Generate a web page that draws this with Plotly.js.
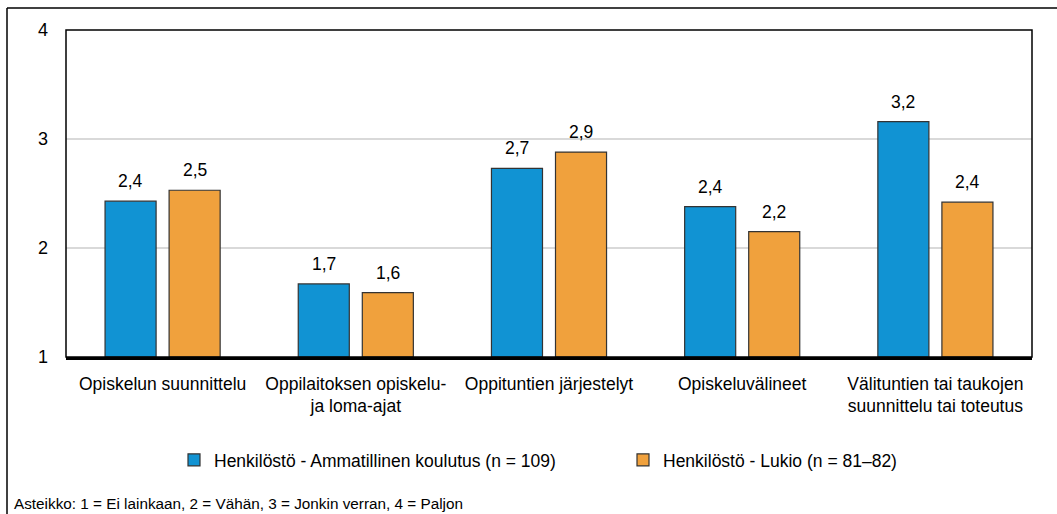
<!DOCTYPE html>
<html>
<head>
<meta charset="utf-8">
<script src="https://cdn.plot.ly/plotly-3.0.1.min.js"></script>
<style>html,body{margin:0;padding:0;background:#fff;}#chart{width:1057px;height:514px;}</style>
</head>
<body>
<div id="chart"></div>
<script>
var categories = [
  "Opiskelun suunnittelu",
  "Oppilaitoksen opiskelu-<br>ja loma-ajat",
  "Oppituntien järjestelyt",
  "Opiskeluvälineet",
  "Välituntien tai taukojen<br>suunnittelu tai toteutus"
];
var seriesNames = ["Henkilöstö - Ammatillinen koulutus (n = 109)", "Henkilöstö - Lukio (n = 81–82)"];
var ammatillinen = [2.43, 1.67, 2.73, 2.38, 3.16];
var lukio = [2.53, 1.59, 2.88, 2.15, 2.42];
var ammatillinenLabels = ["2,4", "1,7", "2,7", "2,4", "3,2"];
var lukioLabels = ["2,5", "1,6", "2,9", "2,2", "2,4"];
var yTicks = [1, 2, 3, 4];
var footnote = "Asteikko: 1 = Ei lainkaan, 2 = Vähän, 3 = Jonkin verran, 4 = Paljon";

var W = 1057, H = 514;
var mL = 66, mR = 25, mT = 30, mB = 157;
var pw = W - mL - mR, ph = H - mT - mB;
function px(x){ return (x - mL) / pw; }
function py(y){ return (H - mB - y) / ph; }

var font = "'Liberation Sans', Arial, sans-serif";
var bargap = 0.337, bargroupgap = 0.203;

function mk(name, vals, color, legendId){
  return {
    type: 'bar', name: name, x: categories, y: vals.map(function(v){return v-1;}), base: 1,
    marker: {color: color, line: {color: '#333333', width: 1.2}},
    legend: legendId, hoverinfo: 'skip'
  };
}

var data = [
  mk(seriesNames[0], ammatillinen, '#1193d3', 'legend'),
  mk(seriesNames[1], lukio, '#f0a13d', 'legend2')
];

// data labels placed through the axes
var slotPx = (1 - bargap) / 2 * (pw / categories.length);
var annotations = [];
[[ammatillinen, ammatillinenLabels, -1], [lukio, lukioLabels, 1]].forEach(function(s){
  s[0].forEach(function(v, j){
    annotations.push({
      x: categories[j], y: v, xref: 'x', yref: 'y', text: s[1][j], showarrow: false,
      xanchor: 'center', yanchor: 'bottom', xshift: s[2] * slotPx / 2, yshift: 8,
      font: {family: font, size: 17.5, color: '#000'}
    });
  });
});
annotations.push({text: footnote, xref: 'paper', yref: 'paper', x: px(12), y: py(503),
  xanchor: 'left', yanchor: 'middle', showarrow: false, font: {family: font, size: 15.3, color: '#000'}});

function legendAt(xPix){
  return {orientation: 'h', x: px(xPix), xanchor: 'left', y: py(460), yanchor: 'middle',
          font: {family: font, size: 17.5, color: '#000'}, itemwidth: 30,
          bgcolor: 'rgba(0,0,0,0)'};
}

var layout = {
  width: W, height: H,
  margin: {l: mL, r: mR, t: mT, b: mB, pad: 0},
  paper_bgcolor: '#fff', plot_bgcolor: '#fff',
  barmode: 'group', bargap: bargap, bargroupgap: bargroupgap,
  font: {family: font, size: 17.5, color: '#000'},
  showlegend: true,
  legend: legendAt(174),
  legend2: legendAt(623),
  xaxis: {type: 'category', showline: true, linecolor: '#000', linewidth: 2.5, ticks: '',
          showgrid: false, zeroline: false, tickfont: {family: font, size: 17.5, color: '#000'},
          ticklabelstandoff: 9, fixedrange: true},
  yaxis: {range: [1, 4], tickvals: yTicks, ticktext: yTicks.map(String), showline: false,
          showgrid: true, gridcolor: '#d9d9d9', gridwidth: 1.5, zeroline: false, ticks: '',
          tickfont: {family: font, size: 18, color: '#000'}, ticklabelstandoff: 17, fixedrange: true},
  shapes: [
    {type: 'rect', xref: 'paper', yref: 'paper', x0: 0, x1: 1, y0: 0, y1: 1,
     line: {color: '#000', width: 1.5}, fillcolor: 'rgba(0,0,0,0)', layer: 'above'},
    {type: 'line', xref: 'paper', yref: 'paper', x0: px(7), x1: px(W + 5), y0: py(8), y1: py(8),
     line: {color: '#000', width: 1.5}},
    {type: 'line', xref: 'paper', yref: 'paper', x0: px(7), x1: px(7), y0: py(8), y1: py(H + 5),
     line: {color: '#000', width: 1.5}}
  ],
  annotations: annotations
};

Plotly.newPlot('chart', data, layout, {displayModeBar: false, staticPlot: true});
</script>
</body>
</html>
